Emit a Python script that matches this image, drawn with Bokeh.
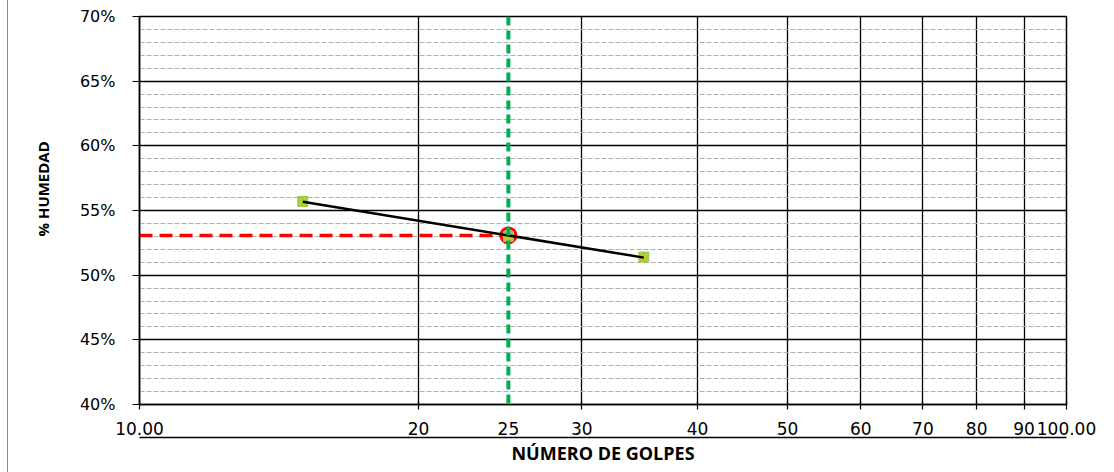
import numpy as np
from bokeh.plotting import figure
from bokeh.models import Range1d, FixedTicker, Span, LogAxis, Title
from bokeh.embed import file_html
from bokeh.resources import INLINE

# ---- data ----
blows = [15, 25, 35]                 # número de golpes
moisture = [55.7, 53.0, 51.4]        # % humedad
ll_blows = 25                        # reference blow count

x_ticks = [10, 20, 30, 40, 50, 60, 70, 80, 90, 100]
x_tick_labels = ["10.00", "20", "30", "40", "50", "60", "70", "80", "90", "100.00"]
x_extra_ticks = [25]
x_extra_labels = ["25"]
y_ticks = [40, 45, 50, 55, 60, 65, 70]
y_tick_labels = ["40%", "45%", "50%", "55%", "60%", "65%", "70%"]
y_minor = [v for v in range(40, 71) if v not in y_ticks]
x_lim = (10, 100)
y_lim = (40, 70)

# logarithmic trend line (flow curve)
coef = np.polyfit(np.log10(blows), moisture, 1)
fit_x = [min(blows), max(blows)]
fit_y = list(np.polyval(coef, np.log10(fit_x)))
ll = float(np.polyval(coef, np.log10(ll_blows)))

p = figure(width=1098, height=472, x_axis_type="log",
           x_range=Range1d(*x_lim), y_range=Range1d(*y_lim),
           output_backend="svg", toolbar_location=None,
           min_border_left=131, min_border_right=40,
           min_border_top=16, min_border_bottom=68)
p.styles = {"margin-left": "7px", "border-left": "1px solid #8a8a8a"}
p.background_fill_color = "white"
p.border_fill_color = "white"
p.outline_line_color = "black"
p.outline_line_width = 1.5

# x axis with tick marks and labels
p.xaxis.ticker = FixedTicker(ticks=x_ticks, minor_ticks=[])
p.xaxis.major_label_overrides = dict(zip(x_ticks, x_tick_labels))
p.xaxis.major_tick_in = 4
p.xaxis.major_tick_out = 5
p.xaxis.major_label_standoff = 12
p.xaxis.major_label_text_font = "DejaVu Sans"
p.xaxis.major_label_text_font_size = "17px"
p.xaxis.major_label_text_color = "black"
# extra label at 25 (no tick mark), pulled up to the same row
lab_axis = LogAxis(ticker=FixedTicker(ticks=x_extra_ticks, minor_ticks=[]))
lab_axis.major_label_overrides = dict(zip(x_extra_ticks, x_extra_labels))
lab_axis.axis_line_color = None
lab_axis.major_tick_line_color = None
lab_axis.minor_tick_line_color = None
lab_axis.major_tick_in = 0
lab_axis.major_tick_out = 0
lab_axis.major_label_standoff = -16
lab_axis.major_label_text_font = "DejaVu Sans"
lab_axis.major_label_text_font_size = "17px"
lab_axis.major_label_text_color = "black"
p.add_layout(lab_axis, "below")

p.yaxis.ticker = FixedTicker(ticks=y_ticks, minor_ticks=[])
p.yaxis.major_label_overrides = dict(zip(y_ticks, y_tick_labels))
p.yaxis.major_tick_in = 0
p.yaxis.major_tick_out = 7
p.yaxis.major_label_standoff = 17
p.yaxis.major_label_text_font = "DejaVu Sans"
p.yaxis.major_label_text_font_size = "16px"
p.yaxis.major_label_text_color = "black"
for ax in (p.xaxis, p.yaxis):
    ax.axis_line_color = "black"
    ax.axis_line_width = 1.5
    ax.major_tick_line_color = "black"
    ax.major_tick_line_width = 1.2
    ax.minor_tick_line_color = None

# axis titles
p.add_layout(Title(text="NÚMERO DE GOLPES", align="center",
                   standoff=2, text_font="Open Sans", text_font_style="bold",
                   text_font_size="18px", text_color="black"), "below")
p.add_layout(Title(text="% HUMEDAD", align="left", offset=168,
                   vertical_align="top", standoff=44,
                   text_font="Open Sans", text_font_style="bold",
                   text_font_size="15px", text_color="black"), "left")

# grids
p.xgrid.ticker = FixedTicker(ticks=x_ticks, minor_ticks=[])
p.xgrid.grid_line_color = "black"
p.xgrid.grid_line_width = 1.3
p.ygrid.ticker = FixedTicker(ticks=y_ticks, minor_ticks=y_minor)
p.ygrid.grid_line_color = "black"
p.ygrid.grid_line_width = 1.3
p.ygrid.minor_grid_line_color = "#b0b0b0"
p.ygrid.minor_grid_line_width = 1
p.ygrid.minor_grid_line_dash = "5 2"

# reference lines
p.add_layout(Span(location=ll_blows, dimension="height", line_color="#00B050",
                  line_width=4, line_dash="9 5"))
p.line(x=[x_lim[0], ll_blows], y=[ll, ll], line_color="#FF0000",
       line_width=3.5, line_dash="13 7")
p.scatter(x=[ll_blows], y=[ll], marker="circle", size=15, fill_color=None,
          line_color="#FF0000", line_width=3)

# data points and trend
p.scatter(x=blows, y=moisture, marker="square", size=10,
          fill_color="#92D050", line_color="#92D050", line_width=1)
p.scatter(x=blows, y=moisture, marker="x", size=10,
          line_color="#FFC000", line_width=1.3)
p.line(x=fit_x, y=fit_y, line_color="black", line_width=2.5)

open("out.html", "w").write(file_html(p, INLINE))
